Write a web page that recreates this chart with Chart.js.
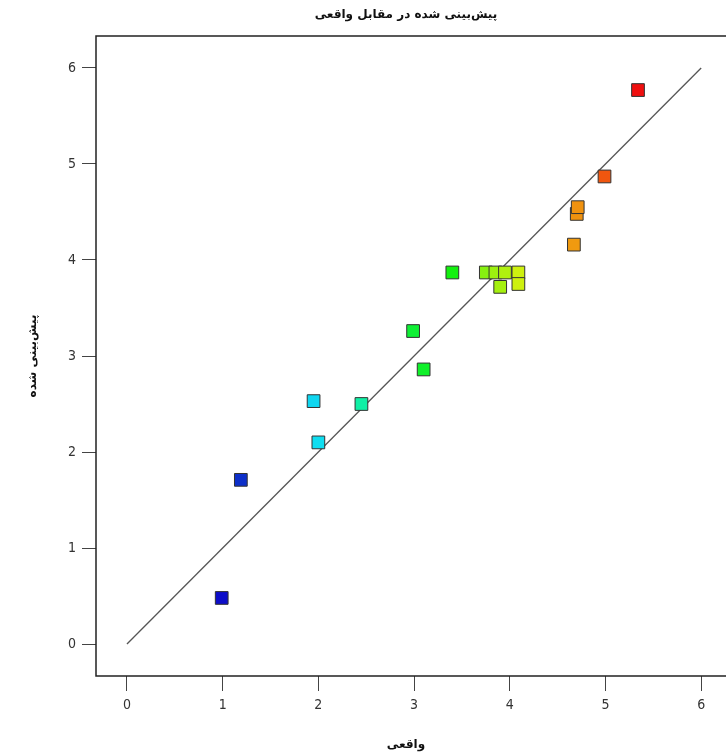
<!DOCTYPE html>
<html>
<head>
<meta charset="utf-8">
<script src="https://cdn.jsdelivr.net/npm/chart.js@4.4.0/dist/chart.umd.min.js"></script>
<style>
  html, body { margin: 0; padding: 0; background: #fff; }
  #wrap { width: 726px; height: 753px; }
</style>
</head>
<body>
<div id="wrap"><canvas id="grafico"></canvas></div>
<script>
// valores
var actual = [0.99, 1.19, 1.95, 2.00, 2.45, 2.99, 3.10, 3.40, 3.75, 3.85, 3.95, 4.09, 3.90, 4.09, 4.67, 4.70, 4.71, 4.99, 5.34];
var predicted = [0.48, 1.71, 2.53, 2.10, 2.50, 3.26, 2.86, 3.87, 3.87, 3.87, 3.87, 3.87, 3.72, 3.75, 4.16, 4.48, 4.55, 4.87, 5.77];
var idealLine = [0, 6];
var tickValues = [0, 1, 2, 3, 4, 5, 6];

var titulo = 'پیش‌بینی شده در مقابل واقعی';
var tituloX = 'واقعی';
var tituloY = 'پیش‌بینی شده';

// colores tipo arcoiris segun el valor real
function colorPunto(v) {
    var t = (v - 1) / (5.34 - 1);
    if (t < 0) t = 0;
    if (t > 1) t = 1;
    var h = 240 * (1 - t);
    if (h > 90 && h < 130) h = h + (130 - h) * 0.5;
    var l = t < 0.05 ? 42 : 50;
    return 'hsl(' + h.toFixed(0) + ',88%,' + l + '%)';
}

var puntos = actual.map(function(x, i) { return { x: x, y: predicted[i] }; });
var linea = idealLine.map(function(v) { return { x: v, y: v }; });

var marco = {
    id: 'marco',
    afterDraw: function(chart) {
        var ctx = chart.ctx, a = chart.chartArea;
        ctx.save();
        ctx.strokeStyle = '#222';
        ctx.lineWidth = 1.5;
        ctx.beginPath();
        ctx.moveTo(chart.width, a.top);
        ctx.lineTo(a.left, a.top);
        ctx.lineTo(a.left, a.bottom);
        ctx.lineTo(chart.width, a.bottom);
        ctx.stroke();
        ctx.restore();
    }
};

var fuenteNum = "'Liberation Sans Narrow', 'DejaVu Sans Condensed', sans-serif";
var fuenteFa = "'DejaVu Sans', sans-serif";

var canvas = document.getElementById('grafico').getContext('2d');
window.scatter = new Chart(canvas, {
    type: 'scatter',
    data: {
        datasets: [{
                type: 'line',
                data: linea,
                borderColor: '#555',
                borderWidth: 1.3,
                pointRadius: 0,
                fill: false,
                order: 2
            }, {
                data: puntos,
                pointStyle: 'rect',
                pointRadius: 9,
                pointBackgroundColor: actual.map(colorPunto),
                pointBorderColor: '#333',
                pointBorderWidth: 1,
                order: 1
            }]
    },
    options: {
        responsive: true,
        maintainAspectRatio: false,
        animation: false,
        layout: { padding: 0 },
        plugins: {
            legend: { display: false },
            tooltip: { enabled: false },
            title: {
                display: true,
                fullSize: false,
                text: titulo,
                color: '#111',
                font: { family: fuenteFa, size: 12, weight: 'bold', lineHeight: 1.2 },
                padding: { top: 8, bottom: 13.6 }
            }
        },
        scales: {
            x: {
                type: 'linear',
                min: -0.3236,
                max: 6.155,
                afterBuildTicks: function(scale) {
                    scale.ticks = tickValues.map(function(v) { return { value: v }; });
                },
                afterFit: function(scale) {
                    scale.height = 77;
                    scale.paddingLeft = 0;
                    scale.paddingRight = 0;
                },
                border: { display: false },
                grid: { drawOnChartArea: false, tickLength: 15, color: '#444', tickWidth: 1 },
                ticks: { color: '#333', padding: 6, font: { family: fuenteNum, size: 14 } },
                title: {
                    display: true,
                    text: tituloX,
                    color: '#111',
                    font: { family: fuenteFa, size: 12, weight: 'bold', lineHeight: 1.2 },
                    padding: { top: 0, bottom: 1 }
                }
            },
            y: {
                type: 'linear',
                min: -0.333,
                max: 6.333,
                afterBuildTicks: function(scale) {
                    scale.ticks = tickValues.map(function(v) { return { value: v }; });
                },
                afterFit: function(scale) {
                    scale.width = 96;
                    scale.paddingTop = 0;
                    scale.paddingBottom = 0;
                },
                border: { display: false },
                grid: { drawOnChartArea: false, tickLength: 14, color: '#444', tickWidth: 1 },
                ticks: { color: '#333', padding: 6, font: { family: fuenteNum, size: 14 } },
                title: {
                    display: true,
                    text: tituloY,
                    color: '#111',
                    font: { family: fuenteFa, size: 12, weight: 'bold', lineHeight: 1.2 },
                    padding: { top: 26, bottom: 0 }
                }
            }
        }
    },
    plugins: [marco]
});
</script>
</body>
</html>
